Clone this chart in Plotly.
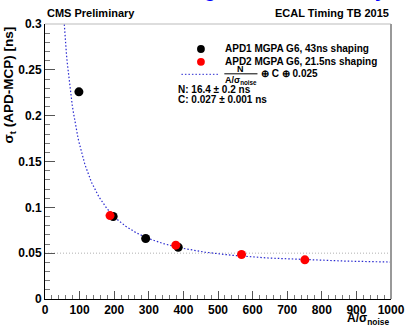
import numpy as np
import plotly.graph_objects as go

# data
apd1_x = [98, 197, 291, 385]
apd1_y = [0.226, 0.090, 0.066, 0.0565]
apd2_x = [188, 378, 568, 751]
apd2_y = [0.091, 0.0587, 0.0486, 0.0427]
fit_N = 16.4
fit_C = 0.027
fit_extra = 0.025
ref_level = 0.05
x_ticks = [0, 100, 200, 300, 400, 500, 600, 700, 800, 900, 1000]
y_ticks = [0, 0.05, 0.1, 0.15, 0.2, 0.25, 0.3]
y_tick_labels = ["0", "0.05", "0.1", "0.15", "0.2", "0.25", "0.3"]

xfit = np.linspace(50, 1000, 400)
yfit = np.sqrt((fit_N / xfit) ** 2 + fit_C ** 2 + fit_extra ** 2)

FONT = "Liberation Sans"
W, H = 417, 329
L, R, T, B = 45, 17, 24, 29
PW, PH = W - L - R, H - T - B


def px(x):
    return (x - L) / PW


def py(y):
    return (H - B - y) / PH


fig = go.Figure()
fig.add_trace(go.Scatter(x=[0, 1000], y=[ref_level, ref_level], mode="lines",
                         line=dict(color="#b0b0b0", width=1, dash="1px,2px"), hoverinfo="skip"))
fig.add_trace(go.Scatter(x=xfit, y=yfit, mode="lines",
                         line=dict(color="#2a2ad0", width=1.2, dash="1.5px,2px"), hoverinfo="skip"))
fig.add_trace(go.Scatter(x=apd1_x, y=apd1_y, mode="markers",
                         marker=dict(color="black", size=9)))
fig.add_trace(go.Scatter(x=apd2_x, y=apd2_y, mode="markers",
                         marker=dict(color="#ff0000", size=9)))

axis_common = dict(showgrid=False, zeroline=False, showline=True, linecolor="black", linewidth=1,
                   ticks="inside", tickcolor="#555555", mirror=False, tickmode="array",
                   tickfont=dict(family=FONT, size=12, color="black"))
fig.update_xaxes(range=[0, 1000], tickvals=x_ticks, ticktext=[f"<b>{v}</b>" for v in x_ticks],
                 ticklen=8,
                 minor=dict(dtick=20, tick0=0, ticks="inside", ticklen=4, tickcolor="#777777"),
                 **axis_common)
fig.update_yaxes(range=[0, 0.3], tickvals=y_ticks, ticktext=[f"<b>{t}</b>" for t in y_tick_labels],
                 ticklen=10,
                 minor=dict(dtick=0.01, tick0=0, ticks="inside", ticklen=5, tickcolor="#777777"),
                 **axis_common)

shapes = [
    dict(type="line", xref="paper", yref="paper", x0=0, x1=1, y0=1, y1=1,
         line=dict(color="#bbbbbb", width=1)),
    dict(type="line", xref="paper", yref="paper", x0=1, x1=1, y0=0, y1=1,
         line=dict(color="#999999", width=2)),
    # legend markers
    dict(type="circle", xref="paper", yref="paper", fillcolor="black", line=dict(width=0),
         x0=px(201), x1=px(209), y0=py(53), y1=py(45)),
    dict(type="circle", xref="paper", yref="paper", fillcolor="#ff0000", line=dict(width=0),
         x0=px(201), x1=px(209), y0=py(66), y1=py(58)),
    dict(type="line", xref="paper", yref="paper", x0=px(185), x1=px(223), y0=py(74.5), y1=py(74.5),
         line=dict(color="#2a2ad0", width=1, dash="1.5px,2px")),
    # fraction bar
    dict(type="line", xref="paper", yref="paper", x0=px(229), x1=px(263), y0=py(74), y1=py(74),
         line=dict(color="black", width=1)),
]

bold = dict(family=FONT, color="black")
ann = [
    dict(text="<b>CMS Preliminary</b>", x=0, y=py(13), xanchor="left", yanchor="middle",
         font=dict(size=11, **bold)),
    dict(text="<b>ECAL Timing TB 2015</b>", x=1, y=py(13), xanchor="right", yanchor="middle",
         font=dict(size=11, **bold)),
    dict(text="<b>Timing Resolution Study</b>", x=px(275), y=py(-10), xanchor="center", yanchor="middle",
         font=dict(size=20, family=FONT, color="blue")),
    dict(text="<b>APD1 MGPA G6, 43ns shaping</b>", x=px(228), y=py(49), xanchor="left", yanchor="middle",
         font=dict(size=10, **bold)),
    dict(text="<b>APD2 MGPA G6, 21.5ns shaping</b>", x=px(228), y=py(61.5), xanchor="left", yanchor="middle",
         font=dict(size=10, **bold)),
    dict(text="<b>N</b>", x=px(246), y=py(69.5), xanchor="center", yanchor="middle",
         font=dict(size=9, **bold)),
    dict(text="<b>A/σ<sub>noise</sub></b>", x=px(228), y=py(81), xanchor="left", yanchor="middle",
         font=dict(size=9, **bold)),
    dict(text="<b>⊕ C ⊕ 0.025</b>", x=px(265), y=py(74), xanchor="left", yanchor="middle",
         font=dict(size=10, **bold)),
    dict(text="<b>N: 16.4 ± 0.2 ns</b>", x=px(179), y=py(89.5), xanchor="left", yanchor="middle",
         font=dict(size=10, **bold)),
    dict(text="<b>C: 0.027 ± 0.001 ns</b>", x=px(179), y=py(100), xanchor="left", yanchor="middle",
         font=dict(size=10, **bold)),
    dict(text="<b>A/σ<sub>noise</sub></b>", x=1, y=py(320), xanchor="right", yanchor="middle",
         font=dict(size=12, **bold)),
    dict(text="<b>σ<sub>t</sub> (APD-MCP) [ns]</b>", x=px(9), y=1, xanchor="center", yanchor="top",
         textangle=-90, font=dict(size=13.5, **bold)),
]
for a in ann:
    a.setdefault("xref", "paper")
    a.setdefault("yref", "paper")
    a["showarrow"] = False

fig.update_layout(width=W, height=H, margin=dict(l=L, r=R, t=T, b=B),
                  paper_bgcolor="white", plot_bgcolor="white", showlegend=False,
                  shapes=shapes, annotations=ann)

fig.write_html("out.html")
